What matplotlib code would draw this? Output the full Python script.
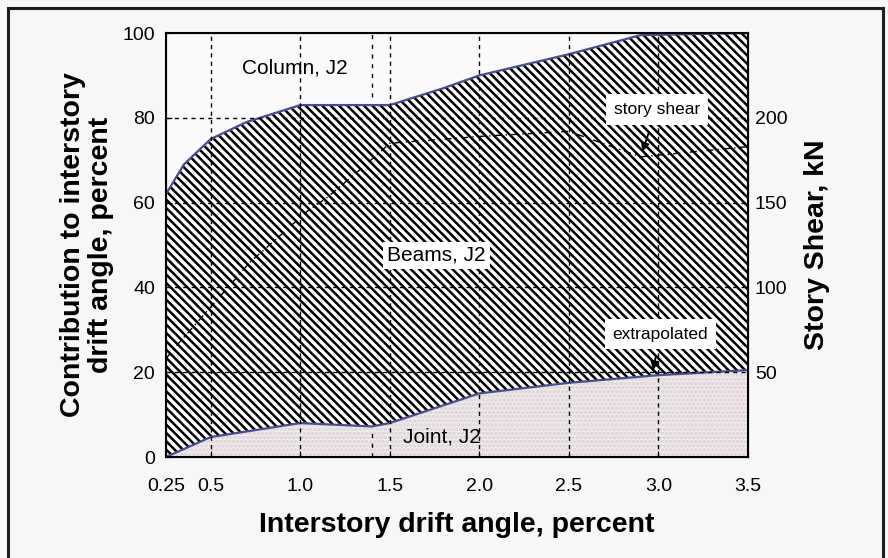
import matplotlib.pyplot as plt
import numpy as np
from matplotlib.patches import Rectangle

plt.rcParams["font.family"] = ["Liberation Sans", "DejaVu Sans"]
plt.rcParams["hatch.color"] = "black"
plt.rcParams["hatch.linewidth"] = 1.8

# Boundary between beams and column contributions (percent)
drift_top = [0.25, 0.35, 0.5, 0.7, 1.0, 1.2, 1.5, 1.8, 2.0, 2.5, 2.9, 3.5]
column_beam = [62, 69, 75, 79, 83, 83, 83, 87, 90, 95, 99.5, 100]

# Boundary between joint and beams contributions (percent)
drift_bot = [0.25, 0.5, 1.0, 1.4, 1.5, 2.0, 2.5, 3.0, 3.5]
beam_joint = [0, 4.7, 8, 7.2, 8, 15, 17.5, 19.3, 20.5]

# Measured story shear (kN, right axis)
drift_shear = [0.25, 0.32, 0.58, 0.72, 0.86, 1.04, 1.15, 1.34, 1.5, 2.0, 2.5, 2.9, 3.5]
story_shear = [58, 67, 98, 115, 128, 145, 153, 170, 185, 189, 192, 177, 183]

xticks = [0.25, 0.5, 1.0, 1.5, 2.0, 2.5, 3.0, 3.5]
xticklabels = ["0.25", "0.5", "1.0", "1.5", "2.0", "2.5", "3.0", "3.5"]
yticks = [0, 20, 40, 60, 80, 100]
shear_ticks = [50, 100, 150, 200]

fig = plt.figure(figsize=(8.88, 5.58), dpi=100, facecolor="#f6f7f6")
fig.patches.append(Rectangle((8 / 888, -0.05), 875 / 888, 1.05 - 8 / 558,
                             transform=fig.transFigure, fill=False,
                             edgecolor="#1e1e1e", linewidth=2.2))

ax = fig.add_axes([166 / 888, 101 / 558, 582 / 888, 424 / 558])
ax.set_facecolor("#f9fafb")

# joint region: light speckled fill
ax.fill_between(drift_bot, 0, beam_joint, facecolor="#f2eef0",
                edgecolor="#dacfd4", hatch="....", linewidth=0)
# beams region: dense diagonal hatch between the two boundaries
xs = np.union1d(drift_top, drift_bot)
top_i = np.interp(xs, drift_top, column_beam)
bot_i = np.interp(xs, drift_bot, beam_joint)
ax.fill_between(xs, bot_i, top_i, facecolor="white", edgecolor="black",
                hatch="\\\\\\\\", linewidth=0)

ax.plot(drift_top, column_beam, color="#4a4d8c", lw=1.6)
ax.plot(drift_bot, beam_joint, color="#4a4d8c", lw=1.6)

# dashed grid
for xv in [0.5, 1.0, 1.5, 2.0, 2.5, 3.0]:
    ax.axvline(xv, color="black", ls=(0, (3, 3)), lw=1.0, zorder=3)
for yv in [20, 40, 60, 80]:
    ax.axhline(yv, color="black", ls=(0, (3, 3)), lw=1.0, zorder=3)
ax.vlines(1.4, 85, 100, color="black", ls=(0, (3, 4)), lw=1.0, zorder=3)
ax.vlines(1.4, 0, 6, color="black", ls=(0, (3, 4)), lw=1.0, zorder=3)

ax.set_xlim(0.25, 3.5)
ax.set_ylim(0, 100)
ax.set_xticks(xticks)
ax.set_xticklabels(xticklabels)
ax.set_yticks(yticks)
ax.tick_params(axis="both", direction="in", length=4, labelsize=14)
ax.tick_params(axis="x", pad=15)
ax.tick_params(axis="y", pad=8)
for s in ax.spines.values():
    s.set_linewidth(1.5)

ax.set_xlabel("Interstory drift angle, percent", fontsize=20.5, fontweight="bold")
ax.xaxis.set_label_coords(0.5, -0.13)
ax.set_ylabel("Contribution to interstory\ndrift angle, percent", fontsize=20.5,
              fontweight="bold", linespacing=1.1)
ax.yaxis.set_label_coords(-0.089, 0.5)

ax2 = ax.twinx()
ax2.set_ylim(0, 250)
ax2.set_yticks(shear_ticks)
ax2.tick_params(axis="y", direction="in", length=0, labelsize=14, pad=5)
ax2.plot(drift_shear, story_shear, color="black", ls=(0, (5, 3, 1, 3)), lw=1.0)
ax2.set_ylabel("Story Shear, kN", fontsize=20.5, fontweight="bold")
ax2.yaxis.set_label_coords(1.096, 0.5)

ax.text(0.97, 91.7, "Column, J2", fontsize=15, ha="center", va="center", zorder=5)
ax.text(1.76, 47.6, "Beams, J2", fontsize=15, ha="center", va="center", zorder=5,
        bbox=dict(boxstyle="square,pad=0.2", facecolor="white", edgecolor="none"))
ax.text(1.79, 4.7, "Joint, J2", fontsize=15, ha="center", va="center", zorder=5)

box = dict(boxstyle="square,pad=0.45", facecolor="white", edgecolor="none")
ax.annotate("story shear", xy=(2.91, 72), xytext=(2.99, 82), fontsize=12.5,
            ha="center", va="center", bbox=box, zorder=6,
            arrowprops=dict(arrowstyle="-|>", color="black", lw=1.3,
                            shrinkA=6, shrinkB=0))
ax.annotate("extrapolated", xy=(2.97, 20.5), xytext=(3.01, 29), fontsize=12.5,
            ha="center", va="center", bbox=box, zorder=6,
            arrowprops=dict(arrowstyle="-|>", color="black", lw=1.3,
                            shrinkA=6, shrinkB=0))

fig.savefig("out.png", dpi=100, facecolor=fig.get_facecolor())
